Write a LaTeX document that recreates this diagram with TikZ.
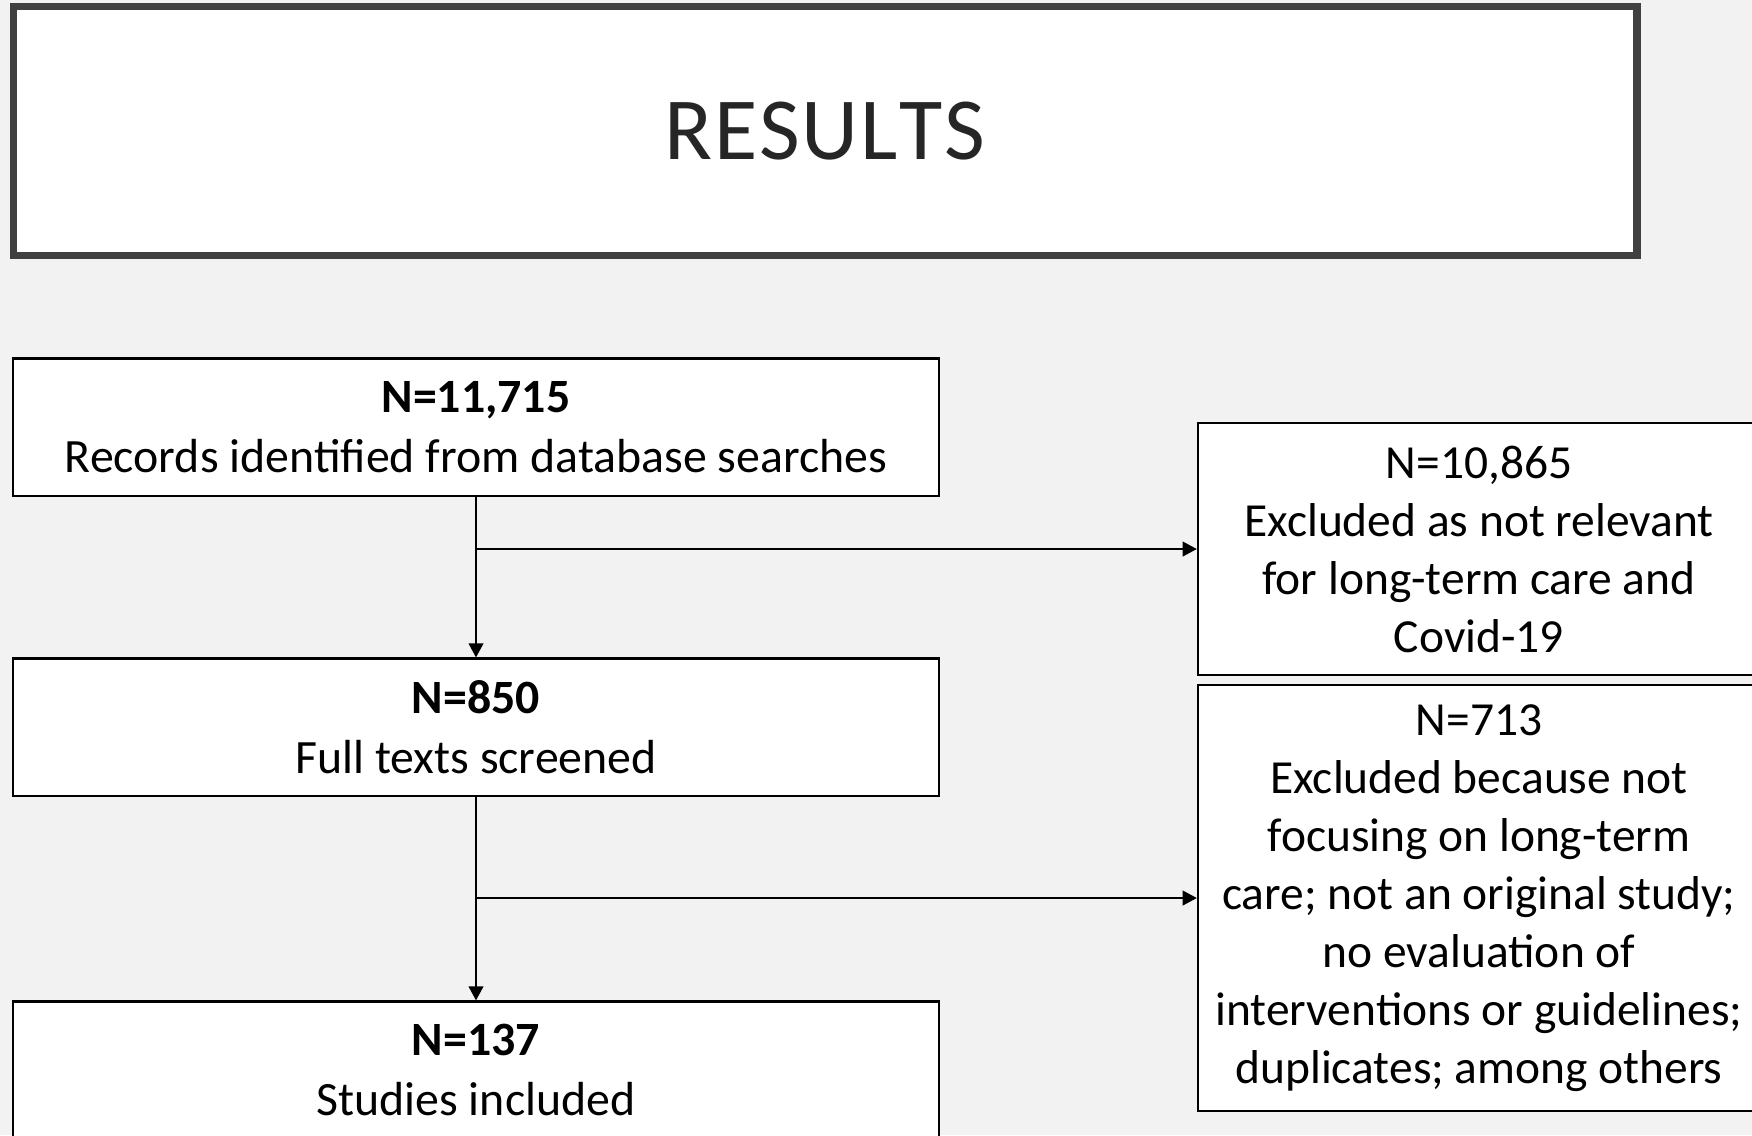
\documentclass[tikz,border=0pt]{standalone}
\usepackage{fontspec}
\setmainfont{Carlito}
\usetikzlibrary{arrows.meta, positioning}
\definecolor{bggray}{HTML}{F2F2F2}
\definecolor{framegray}{HTML}{404040}
\definecolor{titletext}{HTML}{262626}
\tikzset{
  flowbox/.style={draw=black, fill=white, line width=0.6pt, align=center, inner sep=0pt,
    font=\fontsize{13.6pt}{16.9pt}\selectfont},
  leftbox/.style={flowbox, minimum width=9.25cm, minimum height=1.37cm},
  rightbox/.style={flowbox, minimum width=5.62cm, font=\fontsize{13.5pt}{16.5pt}\selectfont},
  flowarrow/.style={line width=0.4pt, -{Triangle[length=4pt,width=4.2pt]}}
}
\begin{document}
\begin{tikzpicture}[x=0.01cm, y=-0.01cm]
%background and page size
\fill[bggray] (0,0) rectangle (1752,1135);
\clip (0,0) rectangle (1752,1135);
%title
\node[draw=framegray, fill=white, line width=2pt, minimum width=16.23cm, minimum height=2.49cm,
  text=titletext, font=\fontsize{25.2pt}{30pt}\selectfont] (title) at (825,131) {R\kern0.5ptE\kern0.5ptS\kern0.5ptU\kern0.5ptL\kern0.5ptT\kern0.5ptS};
%main column
\node[leftbox] (records) at (476,427) {\textbf{N=11,715}\\Records identified from database searches};
\node[leftbox] (fulltexts) at (476,727) {\textbf{N=850}\\Full texts screened};
\node[leftbox] (included) at (476,1070) {\textbf{N=137}\\Studies included};
%exclusions
\node[rightbox, minimum height=2.52cm] (notrelevant) at (1479,549)
  {N=10,865\\Excluded as not relevant\\for long-term care and\\Covid-19};
\node[rightbox, minimum height=4.26cm] (notfocus) at (1479,898)
  {N=713\\Excluded because not\\focusing on long-term\\care; not an original study;\\no evaluation of\\interventions or guidelines;\\duplicates; among others};
%arrows
\draw[flowarrow] (records.south) -- (fulltexts.north);
\draw[flowarrow] (fulltexts.south) -- (included.north);
\draw[flowarrow] (records.south |- notrelevant.west) -- (notrelevant.west);
\draw[flowarrow] (fulltexts.south |- notfocus.west) -- (notfocus.west);
\end{tikzpicture}
\end{document}
